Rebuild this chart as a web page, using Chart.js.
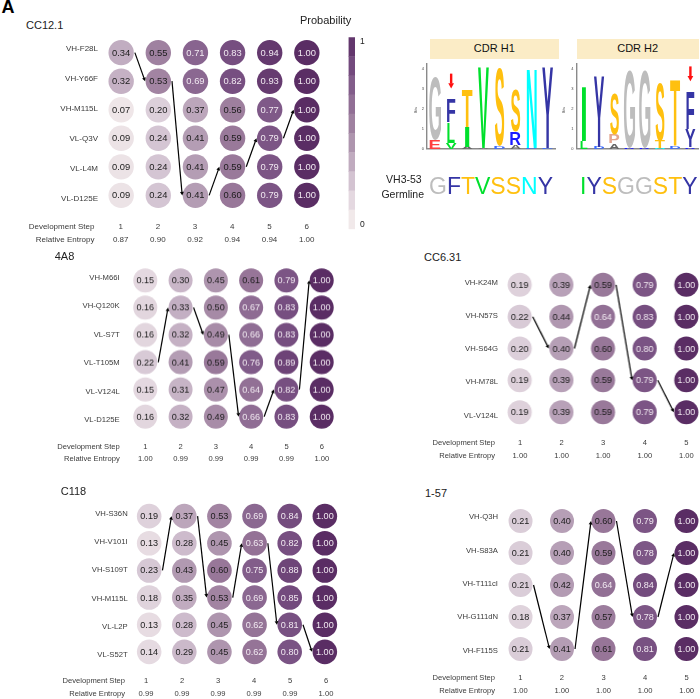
<!DOCTYPE html>
<html>
<head>
<meta charset="utf-8">
<script src="https://cdn.jsdelivr.net/npm/chart.js@4"></script>
<style>
  html, body { margin: 0; padding: 0; background: #fff; }
  #page { position: relative; width: 700px; height: 699px; overflow: hidden; font-family: "Liberation Sans", sans-serif; color: #333; }
  canvas { position: absolute; }
  .txt { position: absolute; line-height: 1; white-space: nowrap; transform: translateY(-50%); }
  .head { position: absolute; background: #fbecc6; color: #111; font-size: 11px; text-align: center; line-height: 19.5px; height: 19.5px; }
</style>
</head>
<body>
<div id="page"></div>
<script>
// antibody panels
const cc121Rows = ['VH-F28L', 'VH-Y66F', 'VH-M115L', 'VL-Q3V', 'VL-L4M', 'VL-D125E'];
const cc121Values = [
    [0.34, 0.55, 0.71, 0.83, 0.94, 1.00],
    [0.32, 0.53, 0.69, 0.82, 0.93, 1.00],
    [0.07, 0.20, 0.37, 0.56, 0.77, 1.00],
    [0.09, 0.24, 0.41, 0.59, 0.79, 1.00],
    [0.09, 0.24, 0.41, 0.59, 0.79, 1.00],
    [0.09, 0.24, 0.41, 0.60, 0.79, 1.00]
];
const cc121Path = [0, 1, 5, 4, 3, 2];
const cc121Entropy = ['0.87', '0.90', '0.92', '0.94', '0.94', '1.00'];

const a48Rows = ['VH-M66I', 'VH-Q120K', 'VL-S7T', 'VL-T105M', 'VL-V124L', 'VL-D125E'];
const a48Values = [
    [0.15, 0.30, 0.45, 0.61, 0.79, 1.00],
    [0.16, 0.33, 0.50, 0.67, 0.83, 1.00],
    [0.16, 0.32, 0.49, 0.66, 0.83, 1.00],
    [0.22, 0.41, 0.59, 0.76, 0.89, 1.00],
    [0.15, 0.31, 0.47, 0.64, 0.82, 1.00],
    [0.16, 0.32, 0.49, 0.66, 0.83, 1.00]
];
const a48Path = [3, 1, 2, 5, 4, 0];
const a48Entropy = ['1.00', '0.99', '0.99', '0.99', '0.99', '1.00'];

const c118Rows = ['VH-S36N', 'VH-V101I', 'VH-S109T', 'VH-M115L', 'VL-L2P', 'VL-S52T'];
const c118Values = [
    [0.19, 0.37, 0.53, 0.69, 0.84, 1.00],
    [0.13, 0.28, 0.45, 0.63, 0.82, 1.00],
    [0.23, 0.43, 0.60, 0.75, 0.88, 1.00],
    [0.18, 0.35, 0.53, 0.69, 0.85, 1.00],
    [0.13, 0.28, 0.45, 0.62, 0.81, 1.00],
    [0.14, 0.29, 0.45, 0.62, 0.80, 1.00]
];
const c118Path = [2, 0, 3, 1, 4, 5];
const c118Entropy = ['0.99', '0.99', '0.99', '0.99', '0.99', '1.00'];

const cc631Rows = ['VH-K24M', 'VH-N57S', 'VH-S64G', 'VH-M78L', 'VL-V124L'];
const cc631Values = [
    [0.19, 0.39, 0.59, 0.79, 1.00],
    [0.22, 0.44, 0.64, 0.83, 1.00],
    [0.20, 0.40, 0.60, 0.80, 1.00],
    [0.19, 0.39, 0.59, 0.79, 1.00],
    [0.19, 0.39, 0.59, 0.79, 1.00]
];
const cc631Path = [1, 2, 0, 3, 4];
const cc631Entropy = ['1.00', '1.00', '1.00', '1.00', '1.00'];

const n157Rows = ['VH-Q3H', 'VH-S83A', 'VH-T111cI', 'VH-G111dN', 'VH-F115S'];
const n157Values = [
    [0.21, 0.40, 0.60, 0.79, 1.00],
    [0.21, 0.40, 0.59, 0.78, 1.00],
    [0.21, 0.42, 0.64, 0.84, 1.00],
    [0.18, 0.37, 0.57, 0.78, 1.00],
    [0.21, 0.41, 0.61, 0.81, 1.00]
];
const n157Path = [2, 4, 0, 3, 1];
const n157Entropy = ['1.00', '1.00', '1.00', '1.00', '1.00'];

// sequence logos, stacked bottom to top, heights in bits
const logoPositions = ['1', '2', '3', '4', '5', '6', '7', '8'];
const h1Letters1 = ['E', 'V', 'A', 'A', 'D', 'A', 'D', 'D'];
const h1Heights1 = [0.45, 0.30, 0.10, 0.05, 0.10, 0.20, 0.05, 0.05];
const h1Letters2 = ['G', 'L', 'I', 'V', 'S', 'R', 'N', 'Y'];
const h1Heights2 = [3.12, 1.00, 1.00, 4.05, 3.90, 0.65, 3.95, 4.05];
const h1Letters3 = ['', 'F', 'T', '', '', 'S', '', ''];
const h1Heights3 = [0, 1.15, 1.90, 0, 0, 2.10, 0, 0];
const h2Letters1 = ['L', 'D', 'A', 'R', 'R', 'N', 'D', 'R'];
const h2Heights1 = [0.40, 0.10, 0.25, 0.05, 0.05, 0.05, 0.15, 0.08];
const h2Letters2 = ['I', 'Y', 'P', 'G', 'G', 'T', 'T', 'Y'];
const h2Heights2 = [2.75, 3.50, 0.45, 3.85, 3.85, 0.35, 3.30, 0.87];
const h2Letters3 = ['', '', 'S', '', '', 'S', '', 'F'];
const h2Heights3 = [0, 0, 2.05, 0, 0, 2.90, 0, 1.85];
const germlineH1 = 'GFTVSSNY';
const germlineH2 = 'IYSGGSTY';

const letterColors = {
    G: '#bdbdbd', F: '#3535a5', Y: '#3535a5', T: '#ffc00f', S: '#ffc00f',
    V: '#00e02c', I: '#00e02c', L: '#00e02c', N: '#00ffff', E: '#ff4040',
    R: '#1a1aff', P: '#e3a58f', A: '#666666', D: '#3a6bff'
};
// how much of its column a letter fills
const letterWidths = { G: 0.74, F: 0.52, L: 0.46, I: 0.28, S: 0.58, V: 0.68, N: 0.62, Y: 0.68, T: 0.66 };

// probability ramp, light to dark
const rampStops = ['#f7f1ef', '#ebe1e5', '#dccfda', '#c9b6c8', '#b69fb6', '#a68aa6', '#987799', '#896690', '#7a5384', '#6b4175', '#5a2d64'];
const legendBands = [0.95, 0.85, 0.75, 0.65, 0.55, 0.45, 0.35, 0.25, 0.15, 0.05];

const page = document.getElementById('page');

function hexToRgb(hex) {
    return [1, 3, 5].map(i => parseInt(hex.slice(i, i + 2), 16));
}

function probColor(v) {
    const pos = Math.min(v * 10, 9.9999);
    const i = Math.floor(pos);
    const a = hexToRgb(rampStops[i]);
    const b = hexToRgb(rampStops[i + 1]);
    const c = a.map((n, k) => Math.round(n + (b[k] - n) * (pos - i)));
    return `rgb(${c[0]},${c[1]},${c[2]})`;
}

function addText(text, x, y, opts = {}) {
    const el = document.createElement('div');
    el.className = 'txt';
    el.textContent = text;
    el.style.fontSize = (opts.size || 8) + 'px';
    el.style.color = opts.color || '#3a3a3a';
    el.style.top = y + 'px';
    if (opts.align === 'right') {
        el.style.right = (700 - x) + 'px';
    } else if (opts.align === 'center') {
        el.style.left = x + 'px';
        el.style.transform = 'translate(-50%, -50%)';
    } else {
        el.style.left = x + 'px';
    }
    page.appendChild(el);
    return el;
}

function addCanvas(x, y, w, h) {
    const c = document.createElement('canvas');
    c.style.left = x + 'px';
    c.style.top = y + 'px';
    c.width = w;
    c.height = h;
    c.style.width = w + 'px';
    c.style.height = h + 'px';
    page.appendChild(c);
    return c;
}

function drawArrow(ctx, x1, y1, x2, y2, width, head, color) {
    const ang = Math.atan2(y2 - y1, x2 - x1);
    ctx.save();
    ctx.strokeStyle = color;
    ctx.fillStyle = color;
    ctx.lineWidth = width;
    ctx.beginPath();
    ctx.moveTo(x1, y1);
    ctx.lineTo(x2 - Math.cos(ang) * head * 0.8, y2 - Math.sin(ang) * head * 0.8);
    ctx.stroke();
    ctx.beginPath();
    ctx.moveTo(x2, y2);
    ctx.lineTo(x2 - head * Math.cos(ang - 0.5), y2 - head * Math.sin(ang - 0.5));
    ctx.lineTo(x2 - head * Math.cos(ang + 0.5), y2 - head * Math.sin(ang + 0.5));
    ctx.closePath();
    ctx.fill();
    ctx.restore();
}

function makePanel(title, rows, values, path, entropy, g) {
    const n = values[0].length;
    const m = rows.length;
    const x0 = g.cx - g.px, y0 = g.cy - g.py;
    const w = g.px * (n + 1), h = g.py * (m + 1);
    const points = [];
    values.forEach((row, r) => row.forEach((v, s) => points.push({ x: s + 1, y: r, v: v })));

    const decor = {
        id: 'decor',
        afterDatasetsDraw(chart) {
            const { ctx, scales } = chart;
            const meta = chart.getDatasetMeta(0);
            ctx.save();
            ctx.font = `${g.valueSize}px "Liberation Sans"`;
            ctx.textAlign = 'center';
            ctx.textBaseline = 'middle';
            meta.data.forEach((el, i) => {
                ctx.fillStyle = points[i].v > 0.61 ? '#f1e9f1' : '#1c1c1c';
                ctx.fillText(points[i].v.toFixed(2), el.x, el.y + 0.5);
            });
            ctx.restore();
            for (let s = 0; s < path.length - 1; s++) {
                drawArrow(ctx,
                    scales.x.getPixelForValue(s + 1) + g.r + 1, scales.y.getPixelForValue(path[s]),
                    scales.x.getPixelForValue(s + 2) - g.r - 0.5, scales.y.getPixelForValue(path[s + 1]),
                    1.2, 4, '#000');
            }
        }
    };

    new Chart(addCanvas(x0, y0, w, h), {
        type: 'scatter',
        data: {
            datasets: [{
                data: points,
                pointRadius: g.r,
                pointHoverRadius: g.r,
                pointBorderWidth: 0,
                pointBackgroundColor: points.map(p => probColor(p.v))
            }]
        },
        options: {
            responsive: false,
            animation: false,
            events: [],
            layout: { padding: { left: g.px / 2, right: g.px / 2, top: g.py / 2, bottom: g.py / 2 } },
            scales: {
                x: { display: false, min: 0.5, max: n + 0.5 },
                y: { display: false, min: -0.5, max: m - 0.5, reverse: true }
            },
            plugins: { legend: { display: false }, tooltip: { enabled: false } }
        },
        plugins: [decor]
    });

    addText(title, g.titleX, g.titleY, { size: 11, color: '#222' });
    rows.forEach((name, i) => {
        addText(name, g.labelX, g.labelY + i * g.labelStep, { align: 'right', size: g.labelSize });
    });
    addText('Development Step', g.footX, g.stepY, { align: 'right', size: g.footSize });
    addText('Relative Entropy', g.footX, g.entY, { align: 'right', size: g.footSize });
    entropy.forEach((val, i) => {
        const sx = (g.numX || g.cx) + i * (g.numStep || g.px);
        addText(String(i + 1), sx, g.stepY, { align: 'center', size: g.footSize });
        addText(val, sx, g.entY, { align: 'center', size: g.footSize });
    });
}

function makeLogo(letterSets, heightSets, mark, g) {
    const glyphs = {
        id: 'glyphs',
        afterDatasetsDraw(chart) {
            const { ctx, scales } = chart;
            letterSets.forEach((letters, d) => {
                chart.getDatasetMeta(d).data.forEach((bar, i) => {
                    const ch = letters[i];
                    const hgt = Math.abs(bar.base - bar.y);
                    if (!ch || hgt < 0.5) return;
                    const lw = bar.width * (letterWidths[ch] || 0.66);
                    ctx.save();
                    ctx.font = 'bold 100px "Liberation Sans"';
                    const m = ctx.measureText(ch);
                    const gw = m.actualBoundingBoxLeft + m.actualBoundingBoxRight;
                    const gh = m.actualBoundingBoxAscent + m.actualBoundingBoxDescent;
                    ctx.translate(bar.x - lw / 2, bar.y);
                    ctx.scale(lw / gw, hgt / gh);
                    ctx.fillStyle = letterColors[ch];
                    ctx.textBaseline = 'alphabetic';
                    ctx.fillText(ch, m.actualBoundingBoxLeft, m.actualBoundingBoxAscent);
                    ctx.restore();
                });
            });
            const mx = scales.x.getPixelForValue(mark.index);
            drawArrow(ctx, mx, scales.y.getPixelForValue(mark.from), mx, scales.y.getPixelForValue(mark.to), 2.4, 6, '#ff1010');
        }
    };
    new Chart(addCanvas(g.x, g.y, g.w, g.h), {
        type: 'bar',
        data: {
            labels: logoPositions,
            datasets: heightSets.map(hs => ({
                data: hs,
                backgroundColor: 'rgba(0,0,0,0)',
                borderWidth: 0,
                barPercentage: 1,
                categoryPercentage: 1
            }))
        },
        options: {
            responsive: false,
            animation: false,
            events: [],
            layout: { padding: { right: g.right, bottom: g.bottom, top: g.top } },
            scales: {
                x: {
                    stacked: true,
                    ticks: { display: false },
                    grid: { display: false, drawTicks: false },
                    border: { color: '#8a8a8a', width: 1.4 },
                    afterFit(scale) { scale.height = 1; }
                },
                y: {
                    stacked: true,
                    min: 0,
                    max: 4.25,
                    afterBuildTicks(scale) {
                        scale.ticks = [0, 1, 2, 3, 4].map(v => ({ value: v }));
                    },
                    ticks: { font: { size: 4, family: 'Liberation Sans' }, color: '#444', padding: 1 },
                    grid: { display: false, drawTicks: true, tickLength: 2, tickColor: '#666' },
                    border: { color: '#8a8a8a', width: 1.4 },
                    title: { display: false },
                    afterFit(scale) { scale.width = g.axis; }
                }
            },
            plugins: { legend: { display: false }, tooltip: { enabled: false } }
        },
        plugins: [glyphs]
    });
    addText('Bits', g.x + 3, 109.5, { size: 3.5, color: '#444' }).style.transform = 'translate(-50%, -50%) rotate(-90deg)';
}

function addGermline(seq, x, y) {
    const el = addText('', x, y, { size: 23 });
    seq.split('').forEach(ch => {
        const s = document.createElement('span');
        s.textContent = ch;
        s.style.color = letterColors[ch];
        el.appendChild(s);
    });
}

makePanel('CC12.1', cc121Rows, cc121Values, cc121Path, cc121Entropy, {
    cx: 120.7, cy: 52.3, px: 37.2, py: 28.7, r: 12.7, valueSize: 9.4,
    titleX: 26, titleY: 25, labelX: 98, labelY: 49, labelStep: 30, labelSize: 8,
    footX: 94.5, stepY: 226.5, entY: 239.5, footSize: 8
});
makePanel('4A8', a48Rows, a48Values, a48Path, a48Entropy, {
    cx: 145.3, cy: 280.3, px: 35.3, py: 27.27, r: 12, valueSize: 9.1,
    titleX: 54.7, titleY: 255.5, labelX: 119.7, labelY: 277.7, labelStep: 28.5, labelSize: 7.7,
    footX: 119.7, stepY: 446.7, entY: 459.3, footSize: 7.6
});
makePanel('C118', c118Rows, c118Values, c118Path, c118Entropy, {
    cx: 148.7, cy: 516.3, px: 35.2, py: 27.2, r: 12.3, valueSize: 9.1,
    titleX: 60.7, titleY: 490.7, labelX: 127.7, labelY: 513.7, labelStep: 28.35, labelSize: 7.7,
    footX: 125, stepY: 681, entY: 693.7, footSize: 7.6, numX: 146, numStep: 36
});
makePanel('CC6.31', cc631Rows, cc631Values, cc631Path, cc631Entropy, {
    cx: 520, cy: 284.7, px: 41.6, py: 31.9, r: 12, valueSize: 9.1,
    titleX: 424, titleY: 257.3, labelX: 498, labelY: 282.7, labelStep: 33.25, labelSize: 7.7,
    footX: 495, stepY: 443, entY: 456.3, footSize: 7.6
});
makePanel('1-57', n157Rows, n157Values, n157Path, n157Entropy, {
    cx: 520.3, cy: 520.7, px: 41.6, py: 32, r: 12, valueSize: 9.1,
    titleX: 425, titleY: 492.7, labelX: 498, labelY: 517.3, labelStep: 33.35, labelSize: 7.7,
    footX: 495, stepY: 678, entY: 691.3, footSize: 7.6
});

// probability legend
new Chart(addCanvas(347, 36, 10, 195), {
    type: 'bar',
    data: {
        labels: legendBands.map(String),
        datasets: [{
            data: legendBands.map(() => 1),
            backgroundColor: legendBands.map(probColor),
            borderWidth: 0,
            barPercentage: 1,
            categoryPercentage: 1
        }]
    },
    options: {
        indexAxis: 'y',
        responsive: false,
        animation: false,
        events: [],
        layout: { padding: { left: 1.5, right: 2, top: 1.3, bottom: 1.7 } },
        scales: {
            x: { display: false, min: 0, max: 1 },
            y: { display: false }
        },
        plugins: { legend: { display: false }, tooltip: { enabled: false } }
    }
});
addText('Probability', 300, 20, { size: 11, color: '#222' });
addText('1', 360, 41, { size: 8.5, color: '#222' });
addText('0', 360, 223.5, { size: 8.5, color: '#222' });

// CDR logos
makeLogo([h1Letters1, h1Letters2, h1Letters3], [h1Heights1, h1Heights2, h1Heights3], { index: 1, from: 3.74, to: 3.0 },
    { x: 414, y: 60, w: 146, h: 92, axis: 13, right: 4.2, bottom: 1.5, top: 2.5 });
makeLogo([h2Letters1, h2Letters2, h2Letters3], [h2Heights1, h2Heights2, h2Heights3], { index: 7, from: 4.1, to: 3.36 },
    { x: 562, y: 60, w: 138, h: 92, axis: 14.4, right: 2, bottom: 1.5, top: 2.5 });

[['CDR H1', 430, 128.7], ['CDR H2', 576.7, 122]].forEach(([label, x, w]) => {
    const el = document.createElement('div');
    el.className = 'head';
    el.textContent = label;
    el.style.left = x + 'px';
    el.style.top = '39.3px';
    el.style.width = w + 'px';
    page.appendChild(el);
});

addText('VH3-53', 421.7, 179, { align: 'right', size: 10.5, color: '#222' });
addText('Germline', 424, 193.7, { align: 'right', size: 10.5, color: '#222' });
addGermline(germlineH1, 429, 186);
addGermline(germlineH2, 580, 186);

// corner panel letter, clipped by the page edge
addText('A', 1.5, 7, { size: 18, color: '#000' }).style.fontWeight = 'bold';
</script>
</body>
</html>
